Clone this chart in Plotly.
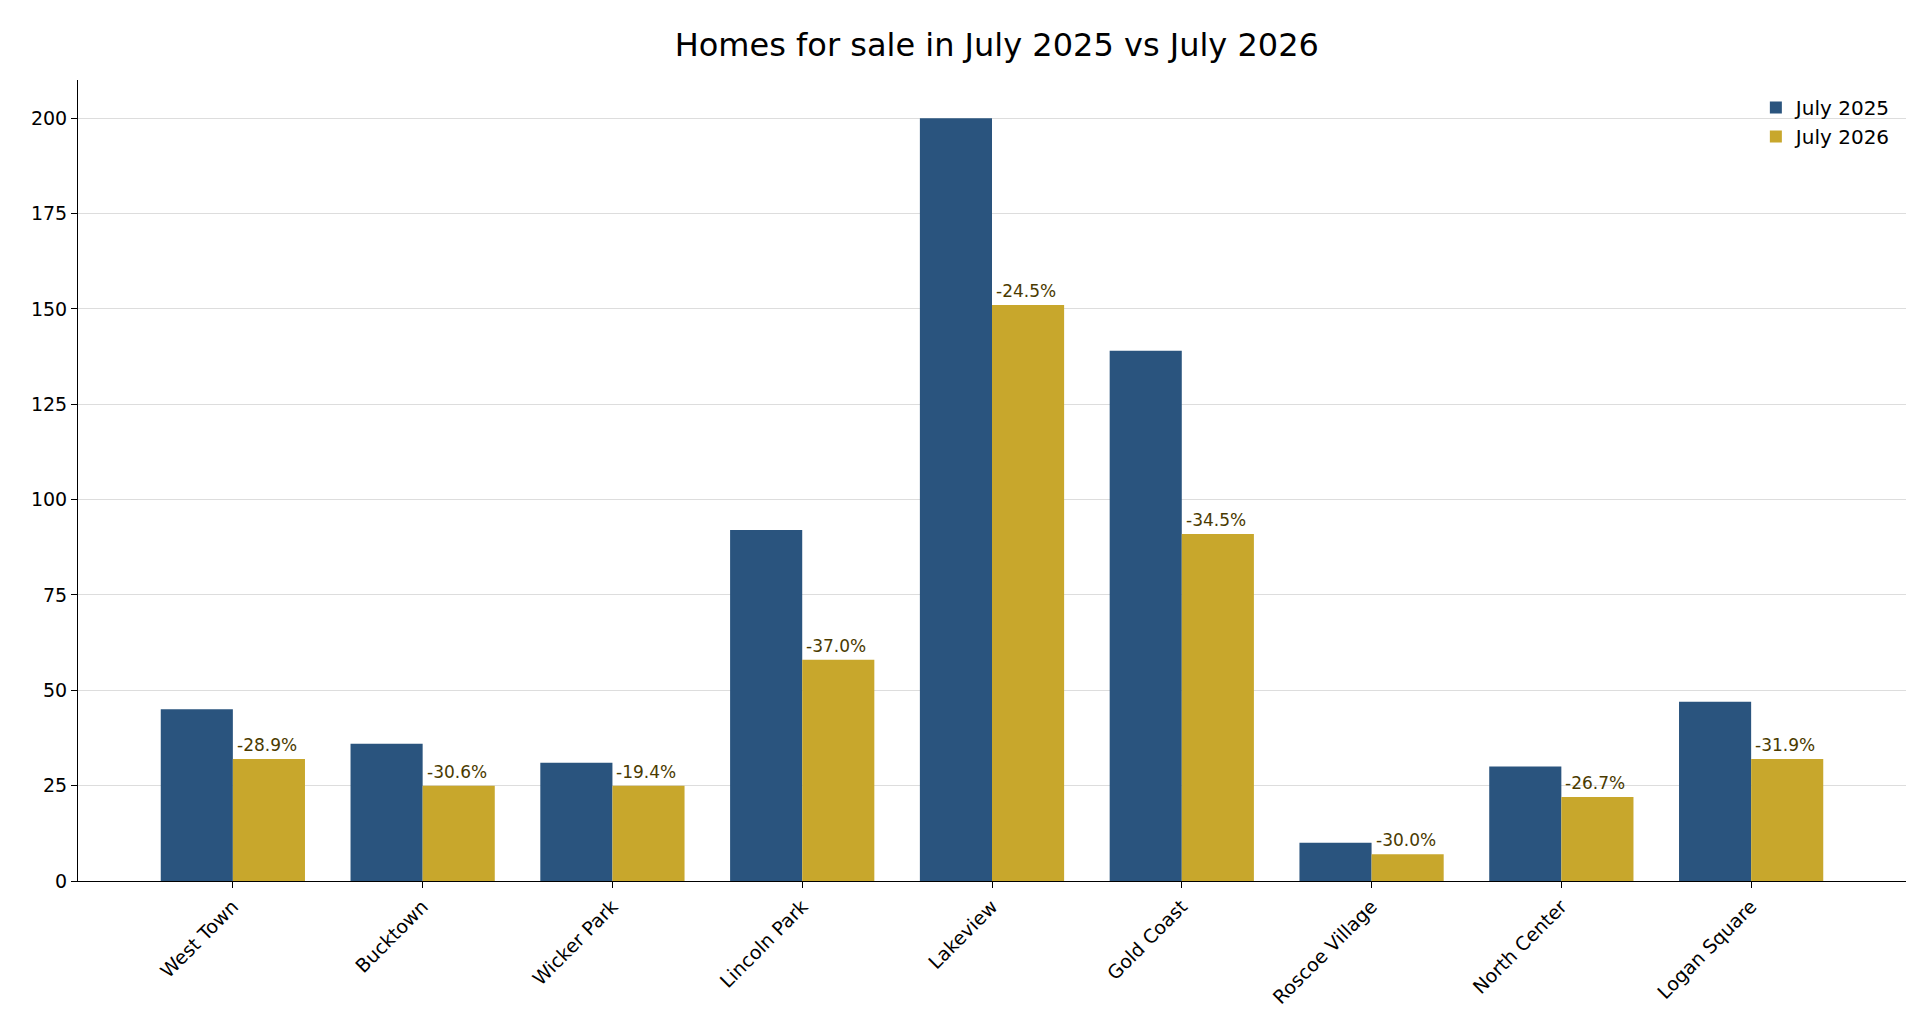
import plotly.graph_objects as go

neighborhoods = ["West Town", "Bucktown", "Wicker Park", "Lincoln Park", "Lakeview",
                 "Gold Coast", "Roscoe Village", "North Center", "Logan Square"]
july_2025 = [45, 36, 31, 92, 200, 139, 10, 30, 47]
july_2026 = [32, 25, 25, 58, 151, 91, 7, 22, 32]

fig = go.Figure()
fig.add_trace(go.Bar(x=neighborhoods, y=july_2025, name="July 2025",
                     marker=dict(color="#2a547e", line=dict(width=0))))
fig.add_trace(go.Bar(x=neighborhoods, y=july_2026, name="July 2026",
                     marker=dict(color="#c8a72c", line=dict(width=0))))

# percent change labels above the July 2026 bars
for name, a, b in zip(neighborhoods, july_2025, july_2026):
    pct = (b - a) / a * 100
    fig.add_annotation(x=name, y=b, text=f"{pct:.1f}%", showarrow=False,
                       xanchor="left", yanchor="bottom", xshift=2, yshift=2,
                       font=dict(size=17, color="#4a3a00"))

fig.update_layout(
    title=dict(text="Homes for sale in July 2025 vs July 2026", x=0.515, y=0.975,
               font=dict(size=32, color="black")),
    font=dict(family="DejaVu Sans", size=19, color="black"),
    barmode="group", bargap=0.24, bargroupgap=0,
    plot_bgcolor="white", paper_bgcolor="white",
    margin=dict(l=70, r=22, t=72, b=160),
    legend=dict(x=0.995, y=0.99, xanchor="right", yanchor="top", bgcolor="rgba(0,0,0,0)",
                font=dict(size=20)),
    xaxis=dict(range=[-0.816, 8.816], tickangle=-45, showline=True, linecolor="black",
               ticks="outside", ticklen=6, tickcolor="black"),
    yaxis=dict(range=[0, 210], tickvals=[0, 25, 50, 75, 100, 125, 150, 175, 200],
               showline=True, linecolor="black", ticks="outside", ticklen=6,
               tickcolor="black", gridcolor="#dddddd", zeroline=False),
    width=1920, height=1033,
)

fig.write_html("out.html")
